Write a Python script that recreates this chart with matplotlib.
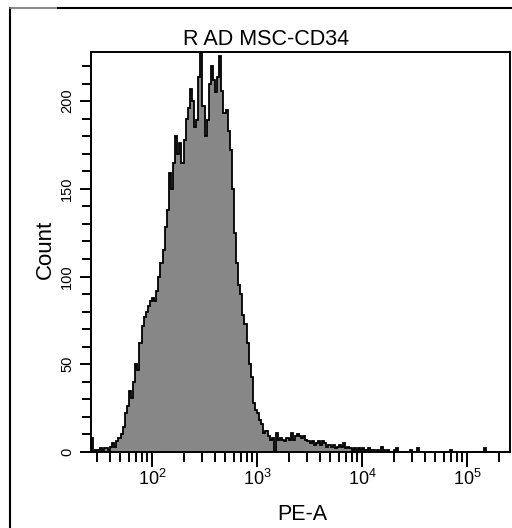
import numpy as np
import matplotlib.pyplot as plt
from matplotlib.lines import Line2D
from matplotlib.ticker import FixedLocator, FixedFormatter, LogLocator, NullFormatter, MultipleLocator

plt.rcParams['font.family'] = ['Liberation Sans', 'DejaVu Sans']
plt.rcParams['mathtext.fontset'] = 'custom'
plt.rcParams['mathtext.rm'] = 'Liberation Sans'
plt.rcParams['mathtext.it'] = 'Liberation Sans'

title = 'R AD MSC-CD34'
x_label = 'PE-A'
y_label = 'Count'

# histogram bins: log10(PE-A) from 1.42, width 0.02 decade
log_start = 1.42
bin_width = 0.02
counts = [
    8, 0, 1, 1, 2, 1, 2, 2, 1, 3,
    5, 3, 6, 8, 10, 14, 22, 26, 35, 31,
    40, 50, 47, 62, 72, 77, 80, 83, 86, 88,
    86, 92, 100, 108, 115, 128, 138, 159, 150, 165,
    180, 170, 176, 165, 178, 190, 196, 207, 200, 185,
    189, 214, 235, 197, 180, 189, 210, 220, 212, 205,
    214, 226, 206, 193, 195, 183, 172, 150, 125, 108,
    95, 90, 78, 73, 62, 50, 43, 28, 24, 22,
    18, 16, 11, 12, 9, 7, 8, 0, 11, 7,
    8, 7, 6, 8, 7, 11, 7, 9, 10, 9,
    8, 9, 7, 6, 5, 6, 4, 5, 6, 4,
    6, 5, 3, 4, 3, 4, 2, 3, 4, 3,
    5, 2, 3, 2, 1, 2, 1, 2, 1, 2,
    1, 1, 2, 1, 1, 0, 1, 0, 3, 1,
    0, 1, 0, 0, 1, 2, 0, 0, 0, 0,
    0, 0, 1, 0, 0, 2, 0, 0, 0, 0,
    0, 0, 0, 0, 0, 0, 0, 0, 0, 0,
    0, 1, 0, 0, 0, 0, 0, 0, 0, 0,
    0, 0, 0, 0, 0, 0, 0, 2, 0, 0,
    0, 0, 0, 0, 0, 0, 0, 0, 0, 0,
]
x_ticks = [1e2, 1e3, 1e4, 1e5]
x_tick_labels = ['$10^{2}$', '$10^{3}$', '$10^{4}$', '$10^{5}$']
y_ticks = [0, 50, 100, 150, 200]

edges = 10 ** (log_start + bin_width * np.arange(len(counts) + 1))

fig = plt.figure(figsize=(5.12, 5.28), dpi=100)
ax = fig.add_axes([91 / 512, 1 - 452 / 528, 419 / 512, 400 / 528])

ax.stairs(counts, edges, fill=True, facecolor='#878787', edgecolor='none')
ax.stairs(counts, edges, color='black', lw=1.3)

ax.set_xscale('log')
ax.set_xlim(10 ** 1.419, 10 ** 5.409)
ax.set_ylim(0, 228)

ax.xaxis.set_major_locator(FixedLocator(x_ticks))
ax.xaxis.set_major_formatter(FixedFormatter(x_tick_labels))
ax.xaxis.set_minor_locator(LogLocator(base=10, subs=np.arange(2, 10)))
ax.xaxis.set_minor_formatter(NullFormatter())

ax.yaxis.set_major_locator(FixedLocator(y_ticks))
ax.yaxis.set_minor_locator(MultipleLocator(10))

for s in ax.spines.values():
    s.set_linewidth(1.4)

ax.tick_params(axis='x', which='major', length=11, width=1.4, labelsize=13, pad=1)
ax.tick_params(axis='x', which='minor', length=7.5, width=1.4)
ax.tick_params(axis='y', which='major', length=8, width=1.4, labelsize=10.5, pad=4,
               labelrotation=90)
ax.tick_params(axis='y', which='minor', length=6.5, width=1.4)
for lbl in ax.get_yticklabels():
    lbl.set_va('center')

fig.text(266 / 512, 1 - 39.5 / 528, title, fontsize=15.5, ha='center', va='center')
fig.text(302 / 512, 1 - 514 / 528, x_label, fontsize=15.5, ha='center', va='center')
fig.text(45 / 512, 1 - 249 / 528, y_label, fontsize=16, ha='center', va='center',
         rotation=90)

# outer frame
fig.add_artist(Line2D([10 / 512, 10 / 512], [0, 1 - 8 / 528],
                      transform=fig.transFigure, color='black', lw=1.5))
fig.add_artist(Line2D([10 / 512, 58 / 512], [1 - 8 / 528, 1 - 8 / 528],
                      transform=fig.transFigure, color='#777777', lw=1.2))
fig.add_artist(Line2D([58 / 512, 1], [1 - 8 / 528, 1 - 8 / 528],
                      transform=fig.transFigure, color='black', lw=1.5))

fig.savefig('out.png', dpi=100)
